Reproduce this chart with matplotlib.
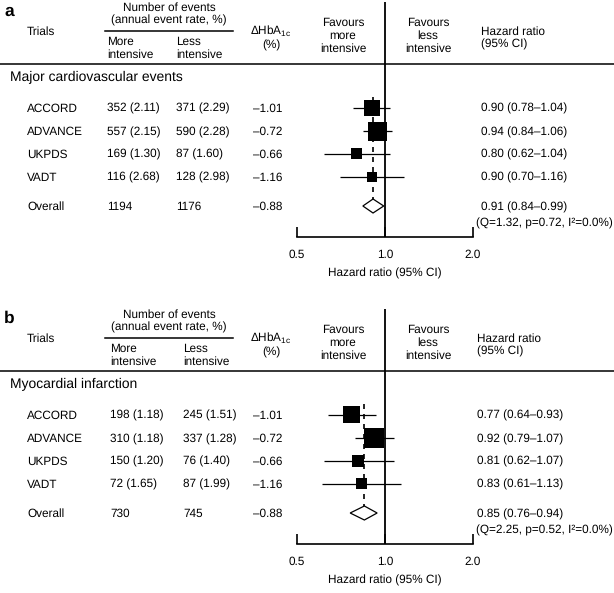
import numpy as np
import matplotlib
matplotlib.use('Agg')
import matplotlib.pyplot as plt
from matplotlib.transforms import blended_transform_factory
from matplotlib.patches import Polygon

plt.rcParams['font.family'] = ['Liberation Sans', 'DejaVu Sans']
plt.rcParams['mathtext.fontset'] = 'custom'
plt.rcParams['mathtext.rm'] = 'Liberation Sans'
plt.rcParams['text.hinting'] = 'no_hinting'

# data
trials = ['ACCORD', 'ADVANCE', 'UKPDS', 'VADT']
hba1c = [-1.01, -0.72, -0.66, -1.16]
hba1c_overall = -0.88

# major cardiovascular events
mace_more_n = [352, 557, 169, 116]
mace_more_rate = [2.11, 2.15, 1.30, 2.68]
mace_less_n = [371, 590, 87, 128]
mace_less_rate = [2.29, 2.28, 1.60, 2.98]
mace_hr = [0.90, 0.94, 0.80, 0.90]
mace_lo = [0.78, 0.84, 0.62, 0.70]
mace_hi = [1.04, 1.06, 1.04, 1.16]
mace_total = [1194, 1176]
mace_overall = [0.91, 0.84, 0.99]
mace_het = [1.32, 0.72, 0.0]

# myocardial infarction
mi_more_n = [198, 310, 150, 72]
mi_more_rate = [1.18, 1.18, 1.20, 1.65]
mi_less_n = [245, 337, 76, 87]
mi_less_rate = [1.51, 1.28, 1.40, 1.99]
mi_hr = [0.77, 0.92, 0.81, 0.83]
mi_lo = [0.64, 0.79, 0.62, 0.61]
mi_hi = [0.93, 1.07, 1.07, 1.13]
mi_total = [730, 745]
mi_overall = [0.85, 0.76, 0.94]
mi_het = [2.25, 0.52, 0.0]

W, H = 614, 593
fig = plt.figure(figsize=(W / 100, H / 100), dpi=100)

row_y = [107.5, 131, 153.5, 176.5]
overall_y = 206
q_y = 222
FS = 8.5


def dash(v):
    return '\u2013%.2f' % abs(v)


def panel(off, letter, title, more_n, more_rate, less_n, less_rate, hr, lo, hi,
          total, overall, het, boxes, c2, c3, c_hr):
    ax = fig.add_axes([297 / W, 1 - (off + 237) / H, 176 / W, 235 / H])
    ax.set_xscale('log')
    ax.set_xlim(0.5, 2.0)
    ax.set_ylim(237, 2)
    for s in ['top', 'left', 'right']:
        ax.spines[s].set_visible(False)
    ax.spines['bottom'].set_linewidth(1.2)
    ax.set_yticks([])
    ax.set_xticks([0.5, 1.0, 2.0])
    ax.set_xticklabels(['0.5', '1.0', '2.0'])
    ax.xaxis.set_minor_locator(matplotlib.ticker.NullLocator())
    ax.tick_params(axis='x', direction='in', length=7, width=1.2, pad=9, labelsize=FS)
    ax.set_xlabel('Hazard ratio (95% CI)', fontsize=FS, labelpad=5)
    ax.patch.set_visible(False)

    ax.axvline(1.0, color='k', lw=1.3)
    ax.plot([overall[0], overall[0]], [row_y[0] - 11, overall_y + 10], color='k',
            lw=1.2, ls=(0, (3, 3)))
    ax.hlines(row_y, lo, hi, color='k', lw=0.9)
    ax.scatter(hr, row_y, marker='s', s=[(b * 0.72) ** 2 for b in boxes],
               color='k', zorder=3, linewidths=0)
    d = Polygon([(overall[1], overall_y), (overall[0], overall_y - 7),
                 (overall[2], overall_y), (overall[0], overall_y + 7)],
                closed=True, facecolor='white', edgecolor='k', lw=0.9, zorder=3)
    ax.add_patch(d)

    tr = blended_transform_factory(fig.transFigure, ax.transData)

    def t(x, y, s, **kw):
        kw.setdefault('fontsize', FS)
        kw.setdefault('va', 'center')
        ax.text(x / W, y + 1, s, transform=tr, **kw)

    # header
    t(4, 10, letter, fontsize=12.5, fontweight='bold')
    t(27, 31, 'Trials')
    t(169, 13, 'Number of events\n(annual event rate, %)', ha='center')
    t(c2, 47, 'More\nintensive')
    t(c3, 47, 'Less\nintensive')
    t(271, 30, '\u0394HbA$_{\\mathregular{1c}}$', ha='center')
    t(271, 44, '(%)', ha='center')
    t(343, 35, 'Favours\nmore\nintensive', ha='center')
    t(428, 35, 'Favours\nless\nintensive', ha='center')
    t(c_hr, 37, 'Hazard ratio\n(95% CI)')
    ax.plot([105 / W, 233 / W], [30.5, 30.5], transform=tr, clip_on=False,
            color='k', lw=1.1)
    ax.plot([0, 1], [64, 64], transform=tr, clip_on=False, color='k', lw=1.1)
    t(10, 76, title, fontsize=10)

    # rows
    for i, name in enumerate(trials):
        y = row_y[i]
        t(27, y, name)
        t(c2, y, '%d (%.2f)' % (more_n[i], more_rate[i]))
        t(c3, y, '%d (%.2f)' % (less_n[i], less_rate[i]))
        t(253, y, dash(hba1c[i]))
        t(c_hr, y, '%.2f (%.2f\u2013%.2f)' % (hr[i], lo[i], hi[i]))
    t(27, overall_y, 'Overall')
    t(c2, overall_y, str(total[0]))
    t(c3, overall_y, str(total[1]))
    t(253, overall_y, dash(hba1c_overall))
    t(c_hr, overall_y, '%.2f (%.2f\u2013%.2f)' % (overall[0], overall[1], overall[2]))
    t(476, q_y, '(Q=%.2f, p=%.2f, I\u00b2=%.1f%%)' % (het[0], het[1], het[2]))


panel(0, 'a', 'Major cardiovascular events', mace_more_n, mace_more_rate,
      mace_less_n, mace_less_rate, mace_hr, mace_lo, mace_hi, mace_total,
      mace_overall, mace_het, [16, 19, 11, 10], 107, 176, 481)
panel(307, 'b', 'Myocardial infarction', mi_more_n, mi_more_rate,
      mi_less_n, mi_less_rate, mi_hr, mi_lo, mi_hi, mi_total,
      mi_overall, mi_het, [17, 20, 12, 11], 110, 183, 477)

fig.savefig('out.png', dpi=100)
